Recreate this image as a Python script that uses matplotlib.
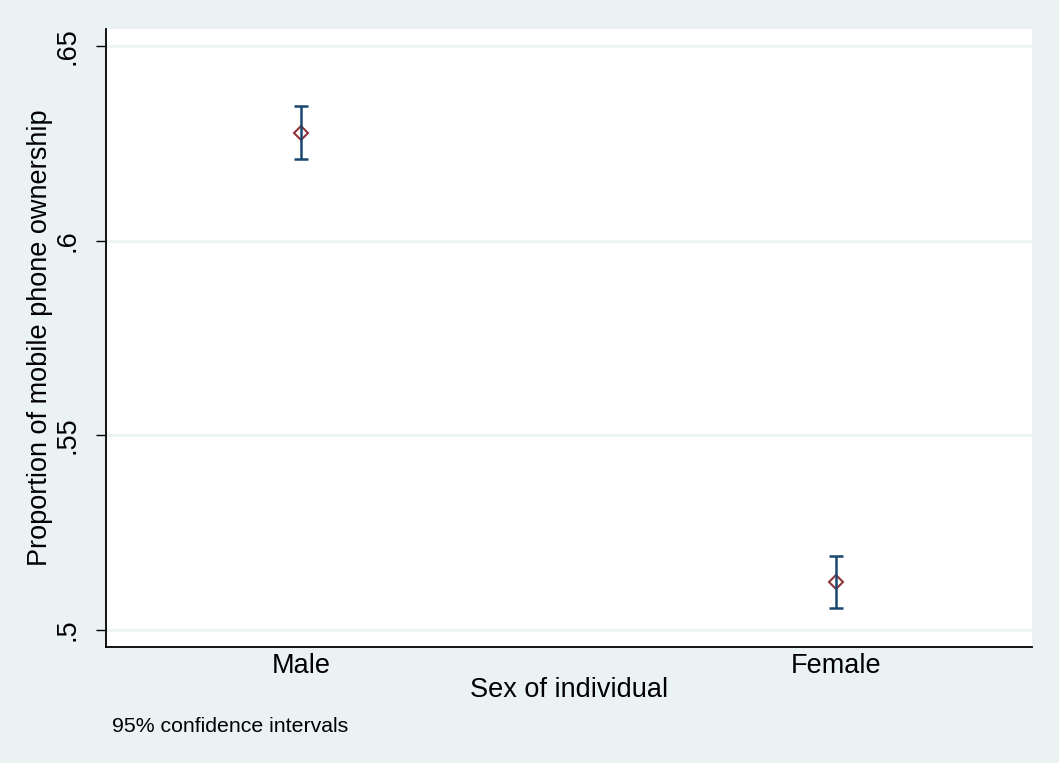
import numpy as np
import matplotlib.pyplot as plt

# values
groups = ['Male', 'Female']
means = [0.6277, 0.5123]
ci_low = [0.6209, 0.5056]
ci_high = [0.6347, 0.5191]
yticks = [0.5, 0.55, 0.6, 0.65]
ytick_labels = ['.5', '.55', '.6', '.65']

bg = '#EAF2F3'
navy = '#1A476F'
maroon = '#90353B'

plt.rcParams['font.family'] = ['Liberation Sans', 'DejaVu Sans']

fig = plt.figure(figsize=(10.59, 7.63), dpi=100, facecolor=bg)
ax = fig.add_axes([106 / 1059, 1 - 647 / 763, 926 / 1059, 618 / 763])
ax.set_facecolor('white')

x = np.arange(1, len(groups) + 1)
means = np.array(means)
yerr = [means - np.array(ci_low), np.array(ci_high) - means]

ax.plot(x, means, 'D', ms=7.2, mfc='none', mec=maroon, mew=1.5, zorder=3)
ax.errorbar(x, means, yerr=yerr, fmt='none', ecolor=navy, elinewidth=1.8,
            capsize=5, capthick=1.8, zorder=4)

ax.set_xlim(0.635, 2.366)
ax.set_ylim(0.4956, 0.6544)
ax.set_xticks(x)
ax.set_xticklabels(groups)
ax.set_yticks(yticks)
ax.set_yticklabels(ytick_labels, rotation=90, va='center')

ax.grid(axis='y', color=bg, linewidth=1.8)
ax.set_axisbelow(True)

for side in ['top', 'right']:
    ax.spines[side].set_visible(False)
for side in ['left', 'bottom']:
    ax.spines[side].set_linewidth(1.3)
    ax.spines[side].set_color('black')

ax.tick_params(axis='x', length=0, pad=4.5, labelsize=19.5)
ax.tick_params(axis='y', length=7.2, width=1, pad=11.5, labelsize=19.5)

ax.set_xlabel('Sex of individual', fontsize=19.5, va='baseline')
ax.xaxis.set_label_coords(0.5, -50 / 618)
ax.set_ylabel('Proportion of mobile phone ownership', fontsize=19.5, va='baseline')
ax.yaxis.set_label_coords(-59 / 926, 0.5)

fig.text(112 / 1059, 1 - 732 / 763, '95% confidence intervals', fontsize=15.3,
         va='baseline', ha='left')

fig.savefig('out.png', dpi=100, facecolor=bg)
